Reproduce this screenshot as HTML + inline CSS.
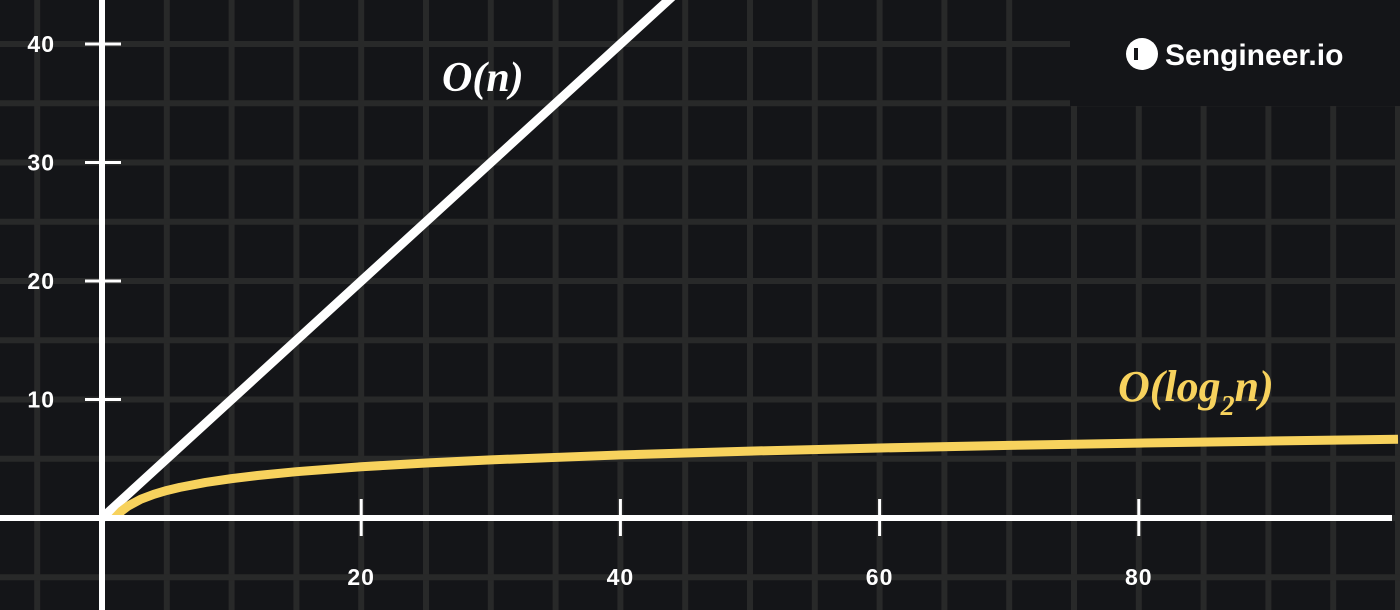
<!DOCTYPE html>
<html><head><meta charset="utf-8"><style>
html,body{margin:0;padding:0;background:#141518;width:1400px;height:610px;overflow:hidden}
svg{display:block}
</style></head><body>
<svg width="1400" height="610" font-family="Liberation Sans, sans-serif">
<rect width="1400" height="610" fill="#141518"/>
<g id="grid"></g>
<rect x="1070" y="0" width="330" height="106" fill="#141518"/>
<g id="ticks"></g>
<g id="series"></g>
<line x1="0" y1="518" x2="1392" y2="518" stroke="#fff" stroke-width="6"/>
<line x1="102" y1="0" x2="102" y2="610" stroke="#fff" stroke-width="6"/>
<text x="442" y="91" fill="#fff" font-family="Liberation Serif, serif" font-style="italic" font-weight="bold" font-size="42">O(n)</text>
<text x="1118" y="401" fill="#f7d25d" font-family="Liberation Serif, serif" font-style="italic" font-weight="bold" font-size="44">O(log<tspan font-size="28" dy="14">2</tspan><tspan dy="-14">n)</tspan></text>
<g>
<rect x="1126" y="38" width="32" height="32" rx="16" fill="#fff"/>
<rect x="1134" y="48" width="4" height="12" fill="#141518"/>
<text x="1165" y="65" fill="#fff" font-weight="bold" font-size="30">Sengineer.io</text>
</g>
</svg>
<script>
const xTicks=[20,40,60,80];
const yTicks=[10,20,30,40];
const linearN=[0,10,20,30,40,50];
const logN=[1,1.5,2,3,4,5,6,8,10,12,15,20,25,30,40,50,60,70,80,90,100];
const X0=102,Y0=518,SX=12.96,SY=11.85;
const xs=n=>X0+n*SX, ys=v=>Y0-v*SY;
const NS='http://www.w3.org/2000/svg';
function mk(t,a,p){const e=document.createElementNS(NS,t);for(const k in a)e.setAttribute(k,a[k]);p.appendChild(e);return e;}
const grid=document.getElementById('grid');
for(let n=-5;n<=100;n+=5){const l=mk('line',{x1:xs(n),y1:0,x2:xs(n),y2:610,stroke:'#282929','stroke-width':6},grid);

}
for(let v=-5;v<=45;v+=5){const l=mk('line',{x1:0,y1:ys(v),x2:1400,y2:ys(v),stroke:'#282929','stroke-width':6},grid);

}
const tk=document.getElementById('ticks');
xTicks.forEach(n=>{const l=mk('line',{x1:xs(n),y1:499,x2:xs(n),y2:536,stroke:'#fff','stroke-width':3},tk);


const t=mk('text',{x:xs(n),y:585,fill:'#fff','font-size':23,'font-weight':'bold','text-anchor':'middle','letter-spacing':1},tk);t.textContent=n;

});
yTicks.forEach(v=>{const l=mk('line',{x1:85,y1:ys(v),x2:121,y2:ys(v),stroke:'#fff','stroke-width':3},tk);


const t=mk('text',{x:55,y:ys(v)+8,fill:'#fff','font-size':23,'font-weight':'bold','text-anchor':'end','letter-spacing':1},tk);t.textContent=v;

});
const sg=document.getElementById('series');
const lp=mk('polyline',{points:linearN.map(n=>xs(n)+','+ys(n)).join(' '),fill:'none',stroke:'#fff','stroke-width':9},sg);


const lg=mk('polyline',{points:logN.map(n=>xs(n)+','+ys(Math.log2(n))).join(' '),fill:'none',stroke:'#f7d25d','stroke-width':9,'stroke-linejoin':'round'},sg);


</script>
</body></html>
